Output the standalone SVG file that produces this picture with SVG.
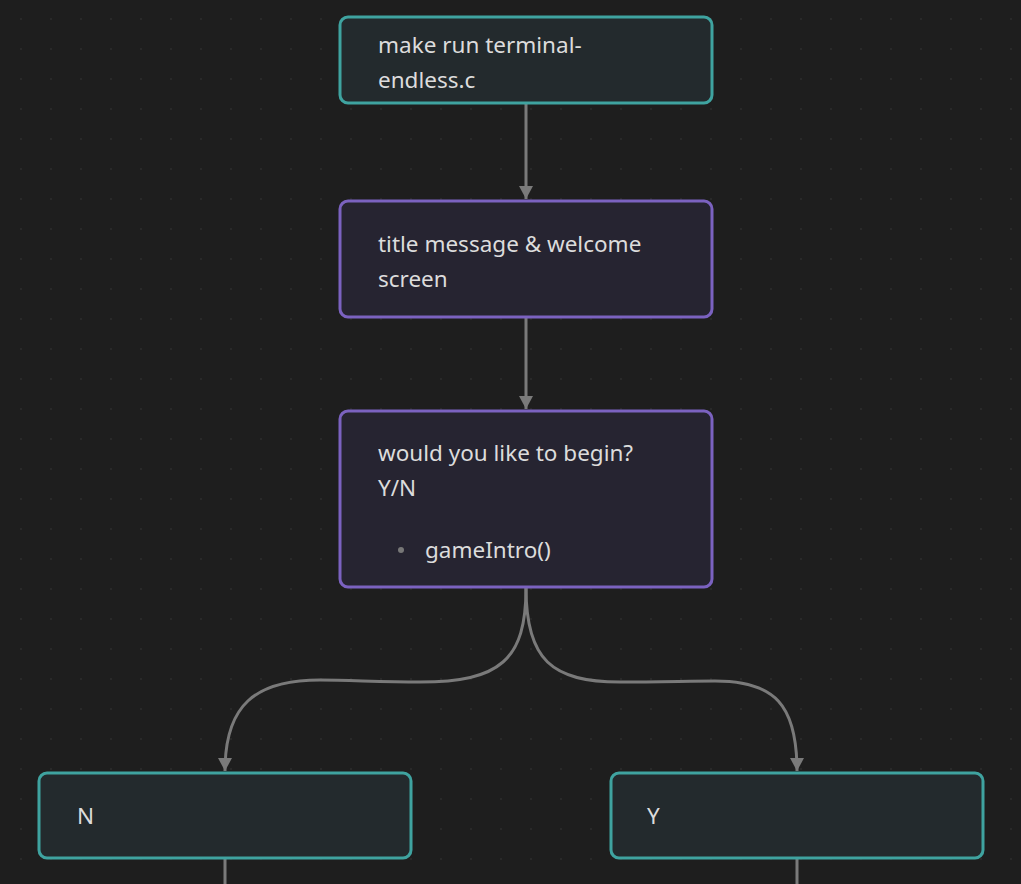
<svg xmlns="http://www.w3.org/2000/svg" width="1021" height="884" viewBox="0 0 1021 884">
<defs>
<pattern id="dots" x="0" y="0" width="30" height="30" patternUnits="userSpaceOnUse">
<circle cx="21" cy="19" r="1" fill="#2c2c2c"/>
</pattern>
<marker id="arrow" viewBox="0 0 13 14" refX="13" refY="7" markerWidth="13" markerHeight="14" markerUnits="userSpaceOnUse" orient="auto">
<path d="M0,0 L13,7 L0,14 Z" fill="#7a7a7a"/>
</marker>
<style>
.teal{fill:#232a2d;stroke:#3fa3a0;stroke-width:3}
.purple{fill:#262431;stroke:#7b62c0;stroke-width:3}
.t{font-family:"Noto Sans","Open Sans",sans-serif;font-size:22.5px;fill:#dcdcdc}
.edge{fill:none;stroke:#7a7a7a;stroke-width:3}
</style>
</defs>
<rect width="1021" height="884" fill="#1e1e1e"/>
<rect width="1021" height="884" fill="url(#dots)"/>
<g id="connectors">
<path class="edge" d="M526,104 L526,199" marker-end="url(#arrow)"/>
<path class="edge" d="M526,318 L526,409" marker-end="url(#arrow)"/>
<path class="edge" d="M526,588 C526,660 500,682 420,682 C380,682 350,680 320,680 C255,680 225,705 225,771" marker-end="url(#arrow)"/>
<path class="edge" d="M526,588 C526,660 552,682 620,682 C660,682 690,681 715,681 C775,681 797,705 797,771" marker-end="url(#arrow)"/>
<path class="edge" d="M225,859 L225,884"/>
<path class="edge" d="M797,859 L797,884"/>
</g>
<g id="node-make">
<rect class="teal" x="340" y="17" width="372" height="86" rx="8"/>
<text class="t" x="378" y="53">make run terminal-</text>
<text class="t" x="378" y="88">endless.c</text>
</g>
<g id="node-title">
<rect class="purple" x="340" y="201" width="372" height="116" rx="8"/>
<text class="t" x="378" y="252">title message &amp; welcome</text>
<text class="t" x="378" y="287">screen</text>
</g>
<g id="node-begin">
<rect class="purple" x="340" y="411" width="372" height="176" rx="8"/>
<text class="t" x="378" y="461">would you like to begin?</text>
<text class="t" x="378" y="496">Y/N</text>
<circle cx="401" cy="550" r="3" fill="#777"/>
<text class="t" x="425" y="558">gameIntro()</text>
</g>
<g id="node-n">
<rect class="teal" x="39" y="773" width="372" height="85" rx="8"/>
<text class="t" x="77" y="824">N</text>
</g>
<g id="node-y">
<rect class="teal" x="611" y="773" width="372" height="85" rx="8"/>
<text class="t" x="647" y="824">Y</text>
</g>
</svg>
